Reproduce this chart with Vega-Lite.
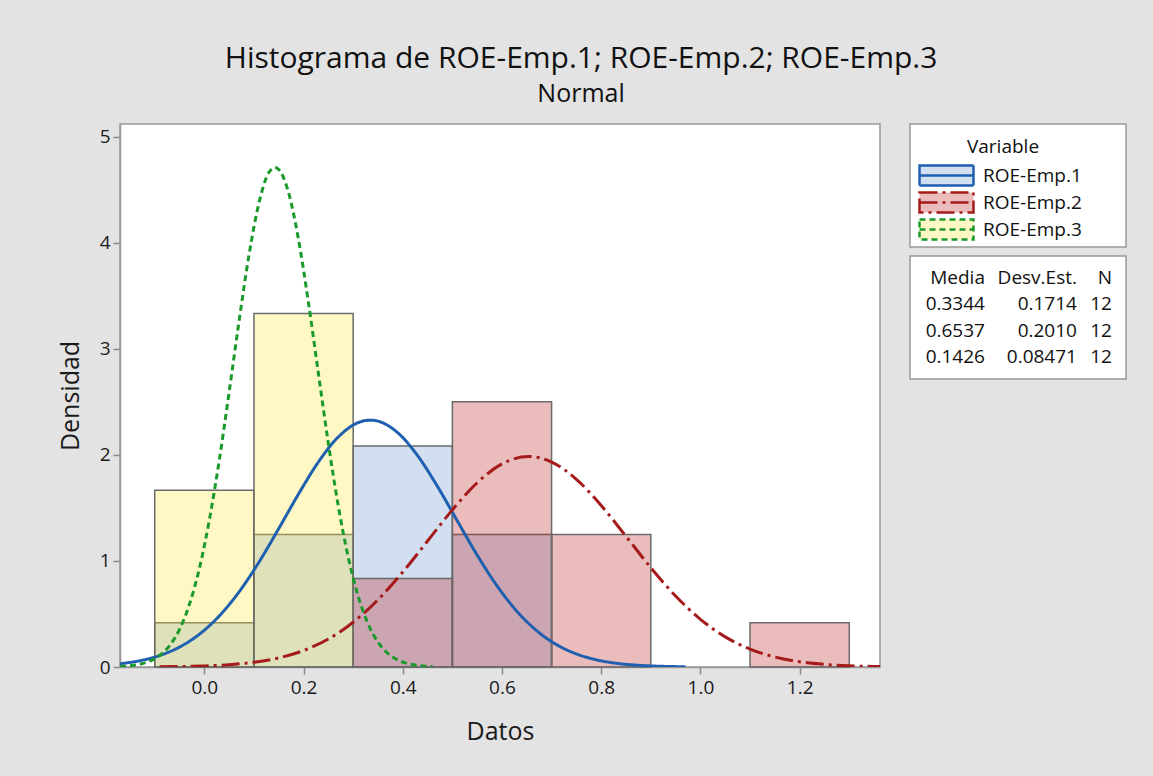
{
  "$schema": "https://vega.github.io/schema/vega-lite/v6.json",
  "background": "#e3e3e3",
  "padding": {"left": 57, "top": 44, "right": 40, "bottom": 40},
  "title": {
    "text": "Histograma de ROE-Emp.1; ROE-Emp.2; ROE-Emp.3",
    "subtitle": "Normal",
    "anchor": "middle",
    "dx": -11,
    "font": "Open Sans",
    "fontSize": 30,
    "fontWeight": "normal",
    "color": "#111111",
    "subtitleFont": "Open Sans",
    "subtitleFontSize": 25,
    "subtitleColor": "#111111",
    "subtitlePadding": 8,
    "offset": 16
  },
  "datasets": {
    "hist": [
      {"serie": "ROE-Emp.1", "desde": -0.1, "hasta": 0.1, "densidad": 0.4167},
      {"serie": "ROE-Emp.1", "desde": 0.1, "hasta": 0.3, "densidad": 1.25},
      {"serie": "ROE-Emp.1", "desde": 0.3, "hasta": 0.5, "densidad": 2.0833},
      {"serie": "ROE-Emp.1", "desde": 0.5, "hasta": 0.7, "densidad": 1.25},
      {"serie": "ROE-Emp.2", "desde": 0.3, "hasta": 0.5, "densidad": 0.8333},
      {"serie": "ROE-Emp.2", "desde": 0.5, "hasta": 0.7, "densidad": 2.5},
      {"serie": "ROE-Emp.2", "desde": 0.7, "hasta": 0.9, "densidad": 1.25},
      {"serie": "ROE-Emp.2", "desde": 1.1, "hasta": 1.3, "densidad": 0.4167},
      {"serie": "ROE-Emp.3", "desde": -0.1, "hasta": 0.1, "densidad": 1.6667},
      {"serie": "ROE-Emp.3", "desde": 0.1, "hasta": 0.3, "densidad": 3.3333}
    ],
    "curvas": [
      {"serie": "ROE-Emp.1", "x": -0.17, "densidad": 0.0307},
      {"serie": "ROE-Emp.1", "x": -0.13, "densidad": 0.0593},
      {"serie": "ROE-Emp.1", "x": -0.09, "densidad": 0.1085},
      {"serie": "ROE-Emp.1", "x": -0.05, "densidad": 0.1882},
      {"serie": "ROE-Emp.1", "x": -0.01, "densidad": 0.3092},
      {"serie": "ROE-Emp.1", "x": 0.03, "densidad": 0.4809},
      {"serie": "ROE-Emp.1", "x": 0.07, "densidad": 0.7083},
      {"serie": "ROE-Emp.1", "x": 0.11, "densidad": 0.9879},
      {"serie": "ROE-Emp.1", "x": 0.15, "densidad": 1.3049},
      {"serie": "ROE-Emp.1", "x": 0.19, "densidad": 1.6322},
      {"serie": "ROE-Emp.1", "x": 0.23, "densidad": 1.9335},
      {"serie": "ROE-Emp.1", "x": 0.27, "densidad": 2.169},
      {"serie": "ROE-Emp.1", "x": 0.31, "densidad": 2.3041},
      {"serie": "ROE-Emp.1", "x": 0.3344, "densidad": 2.3276},
      {"serie": "ROE-Emp.1", "x": 0.35, "densidad": 2.318},
      {"serie": "ROE-Emp.1", "x": 0.39, "densidad": 2.2083},
      {"serie": "ROE-Emp.1", "x": 0.43, "densidad": 1.9923},
      {"serie": "ROE-Emp.1", "x": 0.47, "densidad": 1.7022},
      {"serie": "ROE-Emp.1", "x": 0.51, "densidad": 1.3772},
      {"serie": "ROE-Emp.1", "x": 0.55, "densidad": 1.0552},
      {"serie": "ROE-Emp.1", "x": 0.59, "densidad": 0.7656},
      {"serie": "ROE-Emp.1", "x": 0.63, "densidad": 0.5261},
      {"serie": "ROE-Emp.1", "x": 0.67, "densidad": 0.3423},
      {"serie": "ROE-Emp.1", "x": 0.71, "densidad": 0.2109},
      {"serie": "ROE-Emp.1", "x": 0.75, "densidad": 0.1231},
      {"serie": "ROE-Emp.1", "x": 0.79, "densidad": 0.068},
      {"serie": "ROE-Emp.1", "x": 0.83, "densidad": 0.0356},
      {"serie": "ROE-Emp.1", "x": 0.87, "densidad": 0.0176},
      {"serie": "ROE-Emp.1", "x": 0.91, "densidad": 0.0083},
      {"serie": "ROE-Emp.1", "x": 0.95, "densidad": 0.0037},
      {"serie": "ROE-Emp.1", "x": 0.97, "densidad": 0.0024},
      {"serie": "ROE-Emp.2", "x": -0.09, "densidad": 0.0021},
      {"serie": "ROE-Emp.2", "x": -0.05, "densidad": 0.0043},
      {"serie": "ROE-Emp.2", "x": 0.0, "densidad": 0.01},
      {"serie": "ROE-Emp.2", "x": 0.05, "densidad": 0.0218},
      {"serie": "ROE-Emp.2", "x": 0.1, "densidad": 0.0447},
      {"serie": "ROE-Emp.2", "x": 0.15, "densidad": 0.0859},
      {"serie": "ROE-Emp.2", "x": 0.2, "densidad": 0.1554},
      {"serie": "ROE-Emp.2", "x": 0.25, "densidad": 0.2641},
      {"serie": "ROE-Emp.2", "x": 0.3, "densidad": 0.422},
      {"serie": "ROE-Emp.2", "x": 0.35, "densidad": 0.6338},
      {"serie": "ROE-Emp.2", "x": 0.4, "densidad": 0.8949},
      {"serie": "ROE-Emp.2", "x": 0.45, "densidad": 1.1877},
      {"serie": "ROE-Emp.2", "x": 0.5, "densidad": 1.4817},
      {"serie": "ROE-Emp.2", "x": 0.55, "densidad": 1.7375},
      {"serie": "ROE-Emp.2", "x": 0.6, "densidad": 1.9152},
      {"serie": "ROE-Emp.2", "x": 0.6537, "densidad": 1.9848},
      {"serie": "ROE-Emp.2", "x": 0.7, "densidad": 1.9328},
      {"serie": "ROE-Emp.2", "x": 0.75, "densidad": 1.7696},
      {"serie": "ROE-Emp.2", "x": 0.8, "densidad": 1.5229},
      {"serie": "ROE-Emp.2", "x": 0.85, "densidad": 1.232},
      {"serie": "ROE-Emp.2", "x": 0.9, "densidad": 0.9368},
      {"serie": "ROE-Emp.2", "x": 0.95, "densidad": 0.6696},
      {"serie": "ROE-Emp.2", "x": 1.0, "densidad": 0.4499},
      {"serie": "ROE-Emp.2", "x": 1.05, "densidad": 0.2842},
      {"serie": "ROE-Emp.2", "x": 1.1, "densidad": 0.1687},
      {"serie": "ROE-Emp.2", "x": 1.15, "densidad": 0.0942},
      {"serie": "ROE-Emp.2", "x": 1.2, "densidad": 0.0494},
      {"serie": "ROE-Emp.2", "x": 1.25, "densidad": 0.0244},
      {"serie": "ROE-Emp.2", "x": 1.3, "densidad": 0.0113},
      {"serie": "ROE-Emp.2", "x": 1.35, "densidad": 0.0049},
      {"serie": "ROE-Emp.2", "x": 1.37, "densidad": 0.0035},
      {"serie": "ROE-Emp.3", "x": -0.17, "densidad": 0.0052},
      {"serie": "ROE-Emp.3", "x": -0.15, "densidad": 0.0121},
      {"serie": "ROE-Emp.3", "x": -0.13, "densidad": 0.0266},
      {"serie": "ROE-Emp.3", "x": -0.11, "densidad": 0.0552},
      {"serie": "ROE-Emp.3", "x": -0.09, "densidad": 0.1086},
      {"serie": "ROE-Emp.3", "x": -0.07, "densidad": 0.2019},
      {"serie": "ROE-Emp.3", "x": -0.05, "densidad": 0.3552},
      {"serie": "ROE-Emp.3", "x": -0.03, "densidad": 0.5908},
      {"serie": "ROE-Emp.3", "x": -0.01, "densidad": 0.9296},
      {"serie": "ROE-Emp.3", "x": 0.01, "densidad": 1.3832},
      {"serie": "ROE-Emp.3", "x": 0.03, "densidad": 1.9467},
      {"serie": "ROE-Emp.3", "x": 0.05, "densidad": 2.5912},
      {"serie": "ROE-Emp.3", "x": 0.07, "densidad": 3.262},
      {"serie": "ROE-Emp.3", "x": 0.09, "densidad": 3.8838},
      {"serie": "ROE-Emp.3", "x": 0.11, "densidad": 4.3734},
      {"serie": "ROE-Emp.3", "x": 0.13, "densidad": 4.6624},
      {"serie": "ROE-Emp.3", "x": 0.1426, "densidad": 4.7095},
      {"serie": "ROE-Emp.3", "x": 0.15, "densidad": 4.6916},
      {"serie": "ROE-Emp.3", "x": 0.17, "densidad": 4.4695},
      {"serie": "ROE-Emp.3", "x": 0.19, "densidad": 4.0271},
      {"serie": "ROE-Emp.3", "x": 0.21, "densidad": 3.4317},
      {"serie": "ROE-Emp.3", "x": 0.23, "densidad": 2.7658},
      {"serie": "ROE-Emp.3", "x": 0.25, "densidad": 2.1082},
      {"serie": "ROE-Emp.3", "x": 0.27, "densidad": 1.5199},
      {"serie": "ROE-Emp.3", "x": 0.29, "densidad": 1.0363},
      {"serie": "ROE-Emp.3", "x": 0.31, "densidad": 0.6683},
      {"serie": "ROE-Emp.3", "x": 0.33, "densidad": 0.4076},
      {"serie": "ROE-Emp.3", "x": 0.35, "densidad": 0.2351},
      {"serie": "ROE-Emp.3", "x": 0.37, "densidad": 0.1283},
      {"serie": "ROE-Emp.3", "x": 0.39, "densidad": 0.0662},
      {"serie": "ROE-Emp.3", "x": 0.41, "densidad": 0.0323},
      {"serie": "ROE-Emp.3", "x": 0.43, "densidad": 0.0149},
      {"serie": "ROE-Emp.3", "x": 0.45, "densidad": 0.0065},
      {"serie": "ROE-Emp.3", "x": 0.46, "densidad": 0.0042}
    ],
    "tabla": [
      {"fila": "encabezado", "media": "Media", "desv": "Desv.Est.", "n": "N"},
      {"fila": "ROE-Emp.1", "media": "0.3344", "desv": "0.1714", "n": "12"},
      {"fila": "ROE-Emp.2", "media": "0.6537", "desv": "0.2010", "n": "12"},
      {"fila": "ROE-Emp.3", "media": "0.1426", "desv": "0.08471", "n": "12"}
    ]
  },
  "spacing": 28,
  "resolve": {"scale": {"fill": "independent", "stroke": "independent", "strokeDash": "independent"}},
  "hconcat": [
    {
      "width": 760,
      "height": 543,
      "layer": [
        {
          "data": {"name": "hist"},
          "mark": {"type": "rect", "fillOpacity": 0.3, "stroke": "#6b6b6b", "strokeWidth": 1.5},
          "encoding": {
            "x": {
              "field": "desde", "type": "quantitative", "title": "Datos",
              "scale": {"domain": [-0.17, 1.362], "nice": false, "zero": false},
              "axis": {"values": [0, 0.2, 0.4, 0.6, 0.8, 1, 1.2], "format": ".1f", "labelPadding": 4, "titlePadding": 22}
            },
            "x2": {"field": "hasta"},
            "y": {
              "field": "densidad", "type": "quantitative", "title": "Densidad", "stack": null,
              "scale": {"domain": [0, 5.12], "nice": false},
              "axis": {"values": [0, 1, 2, 3, 4, 5], "format": "d", "labelPadding": 3, "titlePadding": 16}
            },
            "y2": {"datum": 0},
            "fill": {
              "field": "serie", "type": "nominal", "legend": null,
              "scale": {"domain": ["ROE-Emp.1", "ROE-Emp.2", "ROE-Emp.3"], "range": ["#6694cd", "#bc2020", "#ffe83e"]}
            }
          }
        },
        {
          "data": {"name": "curvas"},
          "mark": {"type": "line", "strokeWidth": 3, "interpolate": "monotone", "clip": true},
          "encoding": {
            "x": {"field": "x", "type": "quantitative", "scale": {"domain": [-0.17, 1.362], "nice": false, "zero": false}},
            "y": {"field": "densidad", "type": "quantitative", "scale": {"domain": [0, 5.12], "nice": false}},
            "stroke": {
              "field": "serie", "type": "nominal", "legend": null,
              "scale": {"domain": ["ROE-Emp.1", "ROE-Emp.2", "ROE-Emp.3"], "range": ["#1f5fb0", "#a51b1b", "#1a9a2a"]}
            },
            "strokeDash": {
              "field": "serie", "type": "nominal", "legend": null,
              "scale": {"domain": ["ROE-Emp.1", "ROE-Emp.2", "ROE-Emp.3"], "range": [[1, 0], [18, 5, 3, 5], [6, 4]]}
            }
          }
        }
      ]
    },
    {
      "spacing": 9,
      "bounds": "flush",
      "resolve": {"scale": {"fill": "independent", "stroke": "independent", "strokeDash": "independent"}},
      "vconcat": [
        {
          "width": 216,
          "height": 123,
          "data": {"name": "hist"},
          "transform": [{"filter": "datum.densidad < 0"}],
          "mark": {"type": "rect", "strokeWidth": 2.5},
          "encoding": {
            "x": {"field": "desde", "type": "quantitative", "axis": null},
            "y": {"field": "densidad", "type": "quantitative", "axis": null},
            "fill": {
              "field": "serie", "type": "nominal",
              "scale": {"domain": ["ROE-Emp.1", "ROE-Emp.2", "ROE-Emp.3"], "range": ["#d1dff0", "#ebbcbc", "#fff8c5"]},
              "legend": {
                "title": "Variable", "orient": "top-left", "offset": 0, "padding": 14,
                "symbolType": "M-2.7,-1H2.7V1H-2.7ZM-2.7,0H2.7", "symbolSize": 400, "symbolStrokeWidth": 2.5,
                "symbolOffset": 11, "labelOffset": 25, "rowPadding": -4.5, "titlePadding": 7, "titleAnchor": "middle",
                "encoding": {"symbols": {"strokeDash": {"condition": [{"test": "datum.value === 'ROE-Emp.2'", "value": [18, 5, 3, 5]}, {"test": "datum.value === 'ROE-Emp.3'", "value": [6, 4]}], "value": [1, 0]}}}
              }
            },
            "stroke": {
              "field": "serie", "type": "nominal",
              "scale": {"domain": ["ROE-Emp.1", "ROE-Emp.2", "ROE-Emp.3"], "range": ["#1f5fb0", "#a51b1b", "#1a9a2a"]},
              "legend": {
                "title": "Variable", "orient": "top-left", "offset": 0, "padding": 14,
                "symbolType": "M-2.7,-1H2.7V1H-2.7ZM-2.7,0H2.7", "symbolSize": 400, "symbolStrokeWidth": 2.5,
                "symbolOffset": 11, "labelOffset": 25, "rowPadding": -4.5, "titlePadding": 7, "titleAnchor": "middle",
                "encoding": {"symbols": {"strokeDash": {"condition": [{"test": "datum.value === 'ROE-Emp.2'", "value": [18, 5, 3, 5]}, {"test": "datum.value === 'ROE-Emp.3'", "value": [6, 4]}], "value": [1, 0]}}}
              }
            }
          }
        },
        {
          "width": 216,
          "height": 123,
          "data": {"name": "tabla"},
          "transform": [{"fold": ["media", "desv", "n"], "as": ["columna", "texto"]}],
          "resolve": {"scale": {"x": "independent"}},
          "encoding": {
            "y": {
              "field": "fila", "type": "nominal", "axis": null,
              "scale": {"type": "point", "domain": ["encabezado", "ROE-Emp.1", "ROE-Emp.2", "ROE-Emp.3"], "padding": 0.82}
            },
            "text": {"field": "texto"}
          },
          "layer": [
            {
              "transform": [{"filter": "datum.columna === 'media'"}],
              "mark": {"type": "text", "align": "right", "baseline": "middle", "fontSize": 19, "color": "#111111"},
              "encoding": {"x": {"field": "columna", "type": "nominal", "axis": null, "scale": {"type": "point", "domain": ["media"], "align": 0.347}}}
            },
            {
              "transform": [{"filter": "datum.columna === 'desv'"}],
              "mark": {"type": "text", "align": "right", "baseline": "middle", "fontSize": 19, "color": "#111111"},
              "encoding": {"x": {"field": "columna", "type": "nominal", "axis": null, "scale": {"type": "point", "domain": ["desv"], "align": 0.773}}}
            },
            {
              "transform": [{"filter": "datum.columna === 'n'"}],
              "mark": {"type": "text", "align": "right", "baseline": "middle", "fontSize": 19, "color": "#111111"},
              "encoding": {"x": {"field": "columna", "type": "nominal", "axis": null, "scale": {"type": "point", "domain": ["n"], "align": 0.935}}}
            }
          ]
        }
      ]
    }
  ],
  "config": {
    "font": "Open Sans",
    "view": {"fill": "white", "stroke": "#999999", "strokeWidth": 1.5},
    "axis": {
      "grid": false,
      "labelFontSize": 19,
      "labelColor": "#1a1a1a",
      "titleFontSize": 25,
      "titleFontWeight": "normal",
      "titleColor": "#1a1a1a",
      "tickColor": "#8a8a8a",
      "tickSize": 7,
      "tickWidth": 1.5,
      "domainColor": "#999999",
      "domainWidth": 1.5
    },
    "legend": {
      "titleFontSize": 19,
      "titleFontWeight": "normal",
      "titleColor": "#111111",
      "labelFontSize": 19,
      "labelColor": "#111111"
    }
  }
}
